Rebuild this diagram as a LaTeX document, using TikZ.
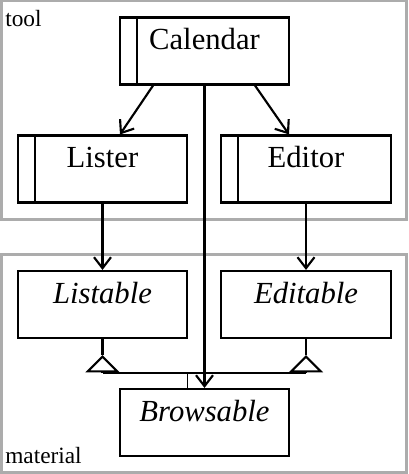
\documentclass[tikz,border=0pt]{standalone}
\usepackage{fontspec}
\setmainfont{Liberation Serif}
\usetikzlibrary{arrows.meta}

\tikzset{%
  % Specifications for style of nodes:
         cls/.style = {rectangle, draw = black, line width=1.6pt, minimum width=127pt, inner xsep=0pt, inner ysep=0pt, text height=24pt, text depth=26.25pt, font=\fontsize{23}{27}\selectfont},
      active/.style = {cls, path picture={\draw[line width=1.6pt] ([xshift=12.75pt]path picture bounding box.north west) -- ([xshift=12.75pt]path picture bounding box.south west);}},
    abstract/.style = {cls, font=\fontsize{23}{27}\selectfont\itshape},
       frame/.style = {draw = gray!65, line width=2.25pt},
         arr/.style = {-{Straight Barb[length=8.25pt,width=12.75pt]}, line width=1.6pt},
         gen/.style = {-{Triangle[open,length=13pt,width=25.5pt]}, line width=1.6pt},
}

\begin{document}
\begin{tikzpicture}[x=0.75pt, y=-0.75pt, every node/.style={font=\fontsize{17.5}{20}\selectfont}]
    \useasboundingbox (0,0) rectangle (408,474);

    % Draw frames
    \draw[frame] (1,1) rectangle (406,219);
    \draw[frame] (1,254) rectangle (406,472);
    \node (tool)      [anchor=base west, inner sep=0pt] at (5,27)  {tool};
    \node (material)  [anchor=base west, inner sep=0pt] at (5,463) {material};

    % Draw nodes
    \node (cal)       [active]   at (204.5,51)    {Calendar};
    \node (lst)       [active]   at (102.5,169)   {Lister};
    \node (edt)       [active]   at (306,169)     {Editor};
    \node (lstb)      [abstract] at (102.5,304.5) {Listable};
    \node (edtb)      [abstract] at (306,304.5)   {Editable};
    \node (brw)       [abstract] at (204.5,422.5) {Browsable};

    % Draw arrows
    \draw[arr]        ([xshift=-38.6pt]cal.south) -- ([xshift=13.1pt]lst.north);
    \draw[arr]        ([xshift=37.9pt]cal.south) -- ([xshift=-12.75pt]edt.north);
    \draw[arr]        (lst) -- (lstb);
    \draw[arr]        (edt) -- (edtb);
    \draw[arr]        (cal) -- (brw);

    % Draw generalization
    \coordinate (lapex) at ([yshift=-12pt]lstb.south);
    \coordinate (eapex) at ([yshift=-12pt]edtb.south);
    \coordinate (lbase) at ([yshift=-13.5pt]lapex);
    \coordinate (ebase) at ([yshift=-13.5pt]eapex);
    \coordinate (join)  at ([xshift=-12.75pt]lbase -| brw.north);
    \draw[line width=1.6pt]   (lstb) -- (lapex);
    \draw[line width=1.6pt]   (edtb) -- (eapex);
    \draw[gen]                (lbase) -- (lapex);
    \draw[gen]                (ebase) -- (eapex);
    \draw[line width=1.6pt]   (lbase) -- (ebase);
    \draw[line width=1pt]     (join) -- (join |- brw.north);
\end{tikzpicture}
\end{document}
